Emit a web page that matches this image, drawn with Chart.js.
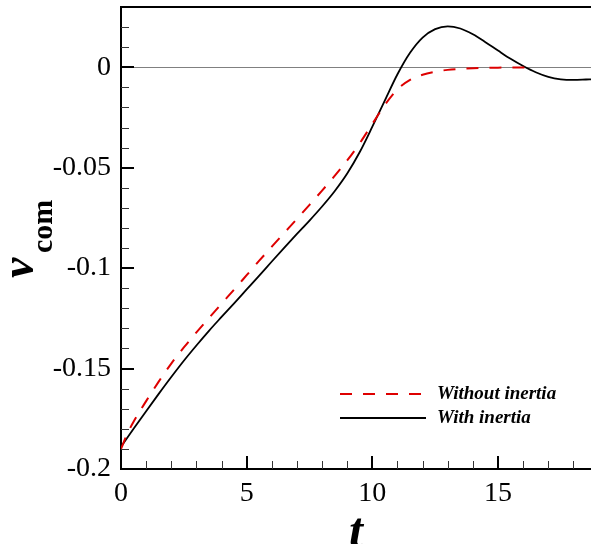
<!DOCTYPE html>
<html>
<head>
<meta charset="utf-8">
<script src="https://cdn.jsdelivr.net/npm/chart.js@4/dist/chart.umd.min.js"></script>
<style>
  body { margin: 0; background: #fff; }
  canvas { display: block; }
</style>
</head>
<body>
<canvas id="vcom" width="591" height="544"></canvas>
<script>
var RED = "rgb(222,0,0)"
var BLACK = "#000000"

// without inertia (dashed red)
var tWithout = [0, 0.25, 0.5, 1, 1.5, 2, 2.5, 3, 3.5, 4, 4.5, 5, 5.5, 6, 6.5, 7, 7.5, 8, 8.5, 9, 9.5, 10, 10.5, 11, 11.5, 12, 12.5, 13, 13.5, 14, 15, 16.2]
var vWithout = [-0.19, -0.1825, -0.1765, -0.1662, -0.1565, -0.1475, -0.1395, -0.132, -0.1248, -0.1177, -0.1107, -0.1035, -0.0963, -0.0893, -0.0824, -0.0755, -0.0685, -0.0614, -0.0541, -0.0464, -0.0378, -0.0282, -0.0187, -0.011, -0.0063, -0.0037, -0.0022, -0.0013, -0.0008, -0.0005, -0.0002, -0.0001]

// with inertia (solid black)
var tWith = [0, 0.5, 1, 1.5, 2, 2.5, 3, 3.5, 4, 4.5, 5, 5.5, 6, 6.5, 7, 7.5, 8, 8.5, 9, 9.5, 10, 10.5, 11, 11.5, 12, 12.5, 13, 13.5, 14, 14.5, 15, 15.5, 16, 16.5, 17, 17.5, 18, 18.5, 18.7]
var vWith = [-0.1889, -0.18, -0.1712, -0.1626, -0.1542, -0.1461, -0.1385, -0.1312, -0.1243, -0.1175, -0.1106, -0.1037, -0.0967, -0.0898, -0.083, -0.0763, -0.0693, -0.0617, -0.0529, -0.0422, -0.0296, -0.0165, -0.0035, 0.0072, 0.0148, 0.019, 0.0204, 0.0193, 0.0164, 0.0125, 0.0083, 0.0042, 0.0006, -0.0025, -0.0048, -0.006, -0.0063, -0.0061, -0.006]

var xTicks = [0, 5, 10, 15]
var yTicks = [-0.2, -0.15, -0.1, -0.05, 0]
var seriesNames = ["Without inertia", "With inertia"]

function pts(ts, vs) {
  return ts.map(function (t, i) { return { x: t, y: vs[i] } })
}

var SERIF = "'Liberation Serif', 'DejaVu Serif', serif"
Chart.defaults.font.family = SERIF

var frame = {
  id: "frame",
  afterDraw: function (chart) {
    var c = chart.ctx, a = chart.chartArea
    var xs = chart.scales.x, ys = chart.scales.y
    c.save()
    // top border
    c.strokeStyle = BLACK
    c.lineWidth = 2
    c.beginPath()
    c.moveTo(a.left, a.top)
    c.lineTo(a.right, a.top)
    c.stroke()

    // inward ticks
    c.lineWidth = 1
    c.strokeStyle = "#333"
    for (var t = 1; t <= xs.max; t++) {
      if (t % 5 == 0) continue
      var px = Math.round(xs.getPixelForValue(t)) + 0.5
      c.beginPath(); c.moveTo(px, a.bottom); c.lineTo(px, a.bottom - 8); c.stroke()
    }
    for (var k = -19; k <= 2; k++) {
      if (k % 5 == 0) continue
      var py = Math.round(ys.getPixelForValue(k / 100)) + 0.5
      c.beginPath(); c.moveTo(a.left, py); c.lineTo(a.left + 8, py); c.stroke()
    }
    c.lineWidth = 2
    c.strokeStyle = BLACK
    xTicks.forEach(function (v) {
      var px = Math.round(xs.getPixelForValue(v))
      c.beginPath(); c.moveTo(px, a.bottom); c.lineTo(px, a.bottom - 13); c.stroke()
    })
    yTicks.forEach(function (v) {
      var py = Math.round(ys.getPixelForValue(v))
      c.beginPath(); c.moveTo(a.left, py); c.lineTo(a.left + 13, py); c.stroke()
    })

    // legend
    var ds = chart.data.datasets
    var rows = [394, 418]
    for (var i = 0; i < ds.length; i++) {
      c.strokeStyle = ds[i].borderColor
      c.lineWidth = ds[i].borderWidth
      c.setLineDash(ds[i].borderDash || [])
      c.beginPath(); c.moveTo(340, rows[i]); c.lineTo(426, rows[i]); c.stroke()
      c.setLineDash([])
      c.fillStyle = BLACK
      c.font = "italic bold 19px " + SERIF
      c.textBaseline = "middle"
      c.textAlign = "left"
      c.fillText(ds[i].label, 437, rows[i])
    }

    // axis titles
    c.fillStyle = BLACK
    c.textBaseline = "alphabetic"
    c.font = "italic bold 50px " + SERIF
    c.textAlign = "center"
    c.fillText("t", (a.left + a.right) / 2, 547)

    c.textAlign = "left"
    c.save()
    c.translate(33, 278)
    c.rotate(-Math.PI / 2)
    c.font = "italic bold 46px " + SERIF
    c.fillText("v", 0, 0)
    c.restore()
    c.save()
    c.translate(52, 253)
    c.rotate(-Math.PI / 2)
    c.font = "bold 30px " + SERIF
    c.fillText("com", 0, 0)
    c.restore()
    c.restore()
  }
}

var ctx = document.getElementById("vcom")
var chart = new Chart(ctx, {
  type: "line",
  data: {
    datasets: [{
      label: seriesNames[0],
      data: pts(tWithout, vWithout),
      borderColor: RED,
      borderWidth: 2,
      borderDash: [12, 11],
      pointRadius: 0,
      fill: false,
      cubicInterpolationMode: "monotone"
    }, {
      label: seriesNames[1],
      data: pts(tWith, vWith),
      borderColor: BLACK,
      borderWidth: 1.8,
      pointRadius: 0,
      fill: false,
      cubicInterpolationMode: "monotone"
    }]
  },
  options: {
    responsive: false,
    animation: false,
    layout: { padding: { top: 7, right: 0, left: 0, bottom: 0 } },
    plugins: { legend: { display: false }, tooltip: { enabled: false } },
    scales: {
      x: {
        type: "linear",
        min: 0,
        max: 18.7,
        afterBuildTicks: function (s) { s.ticks = xTicks.map(function (v) { return { value: v } }) },
        afterFit: function (s) { s.height = 75; s.paddingLeft = 0; s.paddingRight = 0 },
        ticks: {
          padding: 8,
          color: BLACK,
          maxRotation: 0,
          font: { family: SERIF, size: 28 },
          callback: function (v) { return String(v) }
        },
        grid: { display: false, drawTicks: false },
        border: { display: true, color: BLACK, width: 2 }
      },
      y: {
        type: "linear",
        min: -0.2,
        max: 0.03,
        afterBuildTicks: function (s) { s.ticks = yTicks.map(function (v) { return { value: v } }) },
        afterFit: function (s) { s.width = 121; s.paddingTop = 0; s.paddingBottom = 0 },
        ticks: {
          padding: 10,
          color: BLACK,
          font: { family: SERIF, size: 28 },
          callback: function (v) { return String(Math.round(v * 100) / 100) }
        },
        grid: {
          drawTicks: false,
          lineWidth: 1,
          color: function (c) { return c.tick && c.tick.value === 0 ? "#808080" : "rgba(0,0,0,0)" }
        },
        border: { display: true, color: BLACK, width: 2 }
      }
    }
  },
  plugins: [frame]
})
</script>
</body>
</html>
